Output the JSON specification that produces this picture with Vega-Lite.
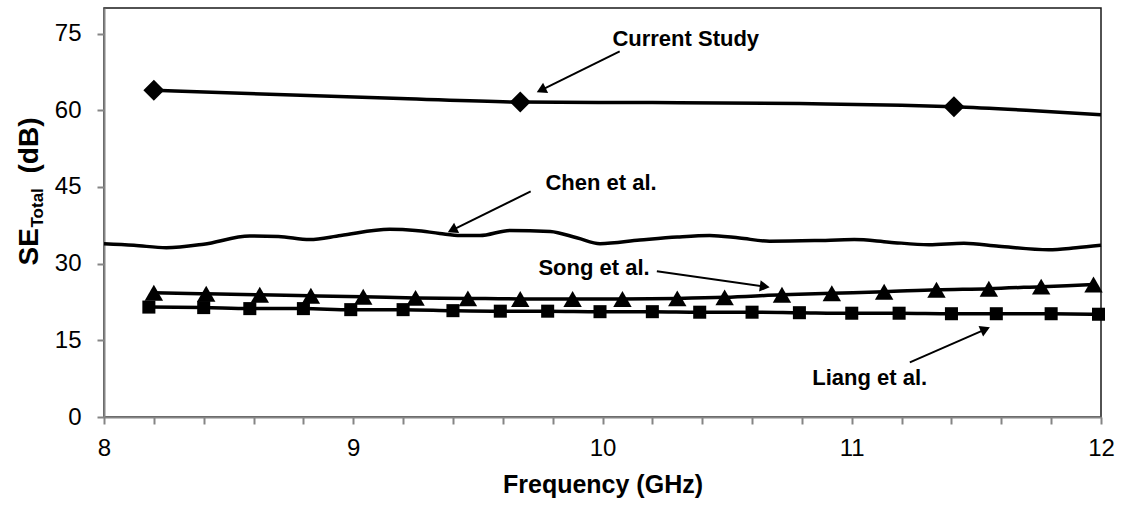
{
  "$schema": "https://vega.github.io/schema/vega-lite/v6.json",
  "width": 997,
  "height": 409,
  "autosize": {"type": "none"},
  "padding": {"left": 104, "top": 8, "right": 22, "bottom": 89},
  "background": "white",
  "config": {
    "view": {"stroke": "#1a1a1a", "strokeWidth": 1.5},
    "font": "Liberation Sans",
    "axis": {
      "labelFont": "Liberation Sans",
      "labelFontSize": 24,
      "labelColor": "black",
      "titleFont": "Liberation Sans",
      "titleFontWeight": "bold",
      "titleColor": "black",
      "domainColor": "#858585",
      "domainWidth": 2,
      "tickColor": "#858585",
      "tickWidth": 2,
      "tickSize": 7,
      "grid": false,
      "zindex": 1
    }
  },
  "datasets": {
    "curves": [
      {"s": "Current Study", "f": 8.2, "se": 63.9, "pt": true},
      {"s": "Current Study", "f": 9.19, "se": 62.3, "pt": false},
      {"s": "Current Study", "f": 9.67, "se": 61.6, "pt": true},
      {"s": "Current Study", "f": 10.2, "se": 61.5, "pt": false},
      {"s": "Current Study", "f": 10.79, "se": 61.3, "pt": false},
      {"s": "Current Study", "f": 11.2, "se": 61.0, "pt": false},
      {"s": "Current Study", "f": 11.41, "se": 60.7, "pt": true},
      {"s": "Current Study", "f": 11.7, "se": 60.0, "pt": false},
      {"s": "Current Study", "f": 12.0, "se": 59.1, "pt": false},
      {"s": "Chen et al.", "f": 8.0, "se": 33.9, "pt": false},
      {"s": "Chen et al.", "f": 8.12, "se": 33.6, "pt": false},
      {"s": "Chen et al.", "f": 8.25, "se": 33.1, "pt": false},
      {"s": "Chen et al.", "f": 8.4, "se": 33.8, "pt": false},
      {"s": "Chen et al.", "f": 8.585, "se": 35.4, "pt": false},
      {"s": "Chen et al.", "f": 8.7, "se": 35.3, "pt": false},
      {"s": "Chen et al.", "f": 8.825, "se": 34.7, "pt": false},
      {"s": "Chen et al.", "f": 8.95, "se": 35.5, "pt": false},
      {"s": "Chen et al.", "f": 9.146, "se": 36.7, "pt": false},
      {"s": "Chen et al.", "f": 9.25, "se": 36.5, "pt": false},
      {"s": "Chen et al.", "f": 9.347, "se": 35.9, "pt": false},
      {"s": "Chen et al.", "f": 9.43, "se": 35.5, "pt": false},
      {"s": "Chen et al.", "f": 9.508, "se": 35.5, "pt": false},
      {"s": "Chen et al.", "f": 9.628, "se": 36.5, "pt": false},
      {"s": "Chen et al.", "f": 9.79, "se": 36.3, "pt": false},
      {"s": "Chen et al.", "f": 9.9, "se": 35.0, "pt": false},
      {"s": "Chen et al.", "f": 9.99, "se": 33.9, "pt": false},
      {"s": "Chen et al.", "f": 10.15, "se": 34.6, "pt": false},
      {"s": "Chen et al.", "f": 10.3, "se": 35.2, "pt": false},
      {"s": "Chen et al.", "f": 10.43, "se": 35.5, "pt": false},
      {"s": "Chen et al.", "f": 10.55, "se": 35.0, "pt": false},
      {"s": "Chen et al.", "f": 10.67, "se": 34.4, "pt": false},
      {"s": "Chen et al.", "f": 10.85, "se": 34.5, "pt": false},
      {"s": "Chen et al.", "f": 11.01, "se": 34.7, "pt": false},
      {"s": "Chen et al.", "f": 11.15, "se": 34.2, "pt": false},
      {"s": "Chen et al.", "f": 11.31, "se": 33.7, "pt": false},
      {"s": "Chen et al.", "f": 11.45, "se": 34.0, "pt": false},
      {"s": "Chen et al.", "f": 11.59, "se": 33.4, "pt": false},
      {"s": "Chen et al.", "f": 11.79, "se": 32.7, "pt": false},
      {"s": "Chen et al.", "f": 11.9, "se": 33.1, "pt": false},
      {"s": "Chen et al.", "f": 12.0, "se": 33.6, "pt": false},
      {"s": "Song et al.", "f": 8.2, "se": 24.3, "pt": true},
      {"s": "Song et al.", "f": 8.41, "se": 24.1, "pt": true},
      {"s": "Song et al.", "f": 8.625, "se": 23.9, "pt": true},
      {"s": "Song et al.", "f": 8.83, "se": 23.7, "pt": true},
      {"s": "Song et al.", "f": 9.04, "se": 23.5, "pt": true},
      {"s": "Song et al.", "f": 9.25, "se": 23.3, "pt": true},
      {"s": "Song et al.", "f": 9.46, "se": 23.2, "pt": true},
      {"s": "Song et al.", "f": 9.67, "se": 23.1, "pt": true},
      {"s": "Song et al.", "f": 9.88, "se": 23.1, "pt": true},
      {"s": "Song et al.", "f": 10.08, "se": 23.1, "pt": true},
      {"s": "Song et al.", "f": 10.3, "se": 23.2, "pt": true},
      {"s": "Song et al.", "f": 10.49, "se": 23.4, "pt": true},
      {"s": "Song et al.", "f": 10.72, "se": 23.9, "pt": true},
      {"s": "Song et al.", "f": 10.92, "se": 24.2, "pt": true},
      {"s": "Song et al.", "f": 11.13, "se": 24.5, "pt": true},
      {"s": "Song et al.", "f": 11.34, "se": 24.9, "pt": true},
      {"s": "Song et al.", "f": 11.55, "se": 25.1, "pt": true},
      {"s": "Song et al.", "f": 11.76, "se": 25.5, "pt": true},
      {"s": "Song et al.", "f": 11.97, "se": 25.9, "pt": true},
      {"s": "Liang et al.", "f": 8.18, "se": 21.5, "pt": true},
      {"s": "Liang et al.", "f": 8.4, "se": 21.4, "pt": true},
      {"s": "Liang et al.", "f": 8.585, "se": 21.2, "pt": true},
      {"s": "Liang et al.", "f": 8.8, "se": 21.2, "pt": true},
      {"s": "Liang et al.", "f": 8.99, "se": 21.0, "pt": true},
      {"s": "Liang et al.", "f": 9.2, "se": 21.0, "pt": true},
      {"s": "Liang et al.", "f": 9.4, "se": 20.8, "pt": true},
      {"s": "Liang et al.", "f": 9.59, "se": 20.7, "pt": true},
      {"s": "Liang et al.", "f": 9.78, "se": 20.7, "pt": true},
      {"s": "Liang et al.", "f": 9.99, "se": 20.6, "pt": true},
      {"s": "Liang et al.", "f": 10.2, "se": 20.6, "pt": true},
      {"s": "Liang et al.", "f": 10.39, "se": 20.5, "pt": true},
      {"s": "Liang et al.", "f": 10.6, "se": 20.5, "pt": true},
      {"s": "Liang et al.", "f": 10.79, "se": 20.4, "pt": true},
      {"s": "Liang et al.", "f": 11.0, "se": 20.3, "pt": true},
      {"s": "Liang et al.", "f": 11.19, "se": 20.3, "pt": true},
      {"s": "Liang et al.", "f": 11.4, "se": 20.2, "pt": true},
      {"s": "Liang et al.", "f": 11.58, "se": 20.2, "pt": true},
      {"s": "Liang et al.", "f": 11.8, "se": 20.2, "pt": true},
      {"s": "Liang et al.", "f": 11.99, "se": 20.1, "pt": true}
    ],
    "notes": [
      {"label": "Current Study", "tx": 10.334, "ty": 73.9, "x1": 10.069, "y1": 71.5, "hx": 9.754, "hy": 63.93, "ang": 243.7},
      {"label": "Chen et al.", "tx": 9.994, "ty": 45.75, "x1": 9.712, "y1": 44.14, "hx": 9.397, "hy": 36.55, "ang": 243.7},
      {"label": "Song et al.", "tx": 9.966, "ty": 29.1, "x1": 10.218, "y1": 28.5, "hx": 10.651, "hy": 25.5, "ang": 98},
      {"label": "Liang et al.", "tx": 11.072, "ty": 7.6, "x1": 11.233, "y1": 10.7, "hx": 11.536, "hy": 17.15, "ang": 66.4}
    ]
  },
  "layer": [
    {
      "data": {"name": "curves"},
      "mark": {"type": "line", "interpolate": "monotone", "color": "black", "strokeWidth": 3.5, "clip": false},
      "encoding": {
        "x": {
          "field": "f", "type": "quantitative",
          "scale": {"domain": [8, 12], "nice": false, "zero": false},
          "axis": {
            "title": "Frequency (GHz)",
            "values": [8, 8.2, 8.4, 8.6, 8.8, 9, 9.2, 9.4, 9.6, 9.8, 10, 10.2, 10.4, 10.6, 10.8, 11, 11.2, 11.4, 11.6, 11.8, 12],
            "labelExpr": "abs(datum.value - round(datum.value)) < 0.01 ? format(datum.value, 'd') : ''",
            "labelOverlap": false,
            "labelFlush": false,
            "labelPadding": 12,
            "titleFontSize": 25,
            "titleX": 498.5,
            "titleY": 55,
            "titleAlign": "center",
            "titleBaseline": "top"
          }
        },
        "y": {
          "field": "se", "type": "quantitative",
          "scale": {"domain": [0, 80], "nice": false, "zero": false},
          "axis": {
            "orient": "left",
            "title": "SE",
            "values": [0, 15, 30, 45, 60, 75],
            "labelPadding": 16,
            "titleFontSize": 28,
            "titleAngle": 270,
            "titleX": -67,
            "titleY": 257,
            "titleAlign": "left",
            "titleBaseline": "alphabetic"
          }
        },
        "detail": {"field": "s"}
      }
    },
    {
      "data": {"name": "curves"},
      "transform": [{"filter": "datum.pt"}],
      "mark": {"type": "point", "filled": true, "color": "black", "opacity": 1, "clip": false},
      "encoding": {
        "x": {"field": "f", "type": "quantitative", "title": "Frequency (GHz)", "scale": {"domain": [8, 12], "nice": false, "zero": false}},
        "y": {
          "field": "se", "type": "quantitative",
          "scale": {"domain": [0, 80], "nice": false, "zero": false},
          "axis": {
            "orient": "left",
            "title": "Total",
            "labels": false, "ticks": false, "domain": false,
            "titleFontSize": 17,
            "titleAngle": 270,
            "titleX": -62,
            "titleY": 219,
            "titleAlign": "left",
            "titleBaseline": "alphabetic"
          }
        },
        "shape": {"field": "s", "type": "nominal", "scale": {"domain": ["Current Study", "Song et al.", "Liang et al."], "range": ["diamond", "triangle-up", "square"]}, "legend": null},
        "size": {
          "condition": [
            {"test": "datum.s === 'Current Study'", "value": 440},
            {"test": "datum.s === 'Song et al.'", "value": 340}
          ],
          "value": 170
        }
      }
    },
    {
      "data": {"name": "notes"},
      "mark": {"type": "rule", "color": "black", "strokeWidth": 2},
      "encoding": {
        "x": {"field": "x1", "type": "quantitative", "title": "Frequency (GHz)", "scale": {"domain": [8, 12], "nice": false, "zero": false}},
        "y": {
          "field": "y1", "type": "quantitative",
          "scale": {"domain": [0, 80], "nice": false, "zero": false},
          "axis": {
            "orient": "left",
            "title": "(dB)",
            "labels": false, "ticks": false, "domain": false,
            "titleFontSize": 28,
            "titleAngle": 270,
            "titleX": -67,
            "titleY": 165,
            "titleAlign": "left",
            "titleBaseline": "alphabetic"
          }
        },
        "x2": {"field": "hx"},
        "y2": {"field": "hy"}
      }
    },
    {
      "data": {"name": "notes"},
      "mark": {"type": "point", "shape": "triangle-up", "filled": true, "color": "black", "opacity": 1, "size": 130},
      "encoding": {
        "x": {"field": "hx", "type": "quantitative", "title": "Frequency (GHz)", "scale": {"domain": [8, 12], "nice": false, "zero": false}},
        "y": {"field": "hy", "type": "quantitative", "scale": {"domain": [0, 80], "nice": false, "zero": false}, "axis": null},
        "angle": {"field": "ang", "type": "quantitative", "scale": null}
      }
    },
    {
      "data": {"name": "notes"},
      "mark": {"type": "text", "font": "Liberation Sans", "fontWeight": "bold", "fontSize": 22, "color": "black", "align": "center", "baseline": "middle"},
      "encoding": {
        "x": {"field": "tx", "type": "quantitative", "title": "Frequency (GHz)", "scale": {"domain": [8, 12], "nice": false, "zero": false}},
        "y": {"field": "ty", "type": "quantitative", "scale": {"domain": [0, 80], "nice": false, "zero": false}, "axis": null},
        "text": {"field": "label"}
      }
    }
  ],
  "resolve": {"axis": {"y": "independent"}}
}
